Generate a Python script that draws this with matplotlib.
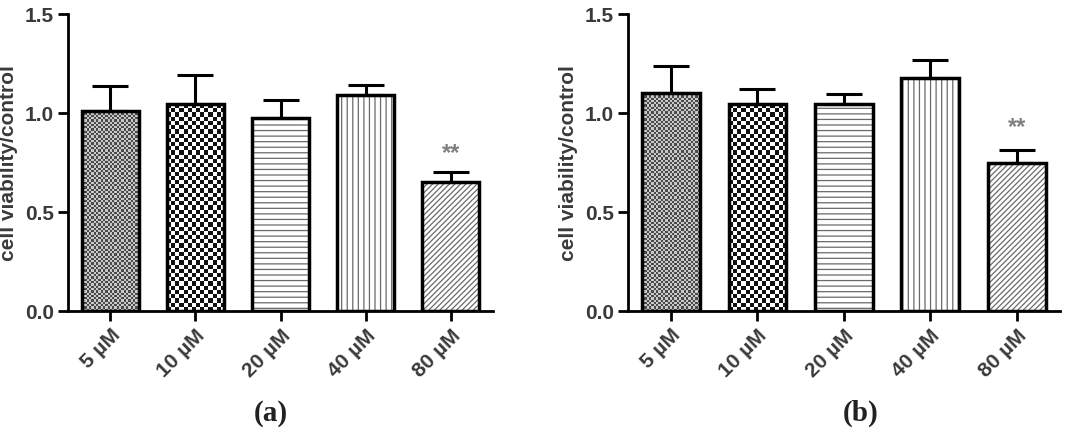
import numpy as np
import matplotlib
matplotlib.use('Agg')
import matplotlib.pyplot as plt
from matplotlib.colors import ListedColormap

plt.rcParams['hatch.linewidth'] = 0.9

# Data
doses = ['5 µM', '10 µM', '20 µM', '40 µM', '80 µM']
viability_a = [1.01, 1.045, 0.975, 1.09, 0.65]
sem_a = [0.126, 0.145, 0.091, 0.05, 0.05]
viability_b = [1.10, 1.045, 1.045, 1.175, 0.745]
sem_b = [0.135, 0.075, 0.05, 0.09, 0.065]
star_a = 0.80
star_b = 0.93

text_col = '#3a3a3a'
font = 'Liberation Sans'


# Fill a bar with a checkerboard, clipped to the bar outline
def checker(ax, bar, cell_px, c1, c2):
    x0, y0 = bar.get_x(), bar.get_y()
    w, h = bar.get_width(), bar.get_height()
    (px0, py0), (px1, py1) = ax.transData.transform([(x0, y0), (x0 + w, y0 + h)])
    nx = max(1, int(round((px1 - px0) / cell_px)))
    ny = max(1, int(round((py1 - py0) / cell_px)))
    grid = np.add.outer(np.arange(ny), np.arange(nx)) % 2
    im = ax.imshow(grid, extent=(x0, x0 + w, y0, y0 + h), cmap=ListedColormap([c1, c2]),
                   interpolation='nearest', aspect='auto', zorder=1)
    im.set_clip_path(bar)


def draw_panel(ax, vals, errs, star_y):
    x = np.arange(len(doses))
    ax.set_xlim(-0.5, 4.5)
    ax.set_ylim(0, 1.5)
    # gray hatch layer underneath, black outline on top
    fills = ax.bar(x, vals, width=0.67, color='white', edgecolor='#6a6a6a', linewidth=0, zorder=1.2)
    ax.bar(x, vals, width=0.67, color='none', edgecolor='black', linewidth=2.5, zorder=2)
    ax.errorbar(x, vals, yerr=[np.zeros(len(vals)), errs], fmt='none', ecolor='black',
                elinewidth=2.2, capsize=13, capthick=2.2, zorder=1.5)

    # patterns: fine check, coarse check, horizontal, vertical, diagonal
    checker(ax, fills[0], 2.3, '#4a4a4a', '#c8c8c8')
    checker(ax, fills[1], 4.2, '#111111', '#ffffff')
    fills[0].set_facecolor('none')
    fills[1].set_facecolor('none')
    fills[2].set_hatch('---')
    fills[3].set_hatch('|||')
    fills[4].set_hatch('//////')

    ax.text(x[-1], star_y, '**', ha='center', va='center', fontsize=17,
            fontweight='bold', color='#808080', family=font)

    ax.set_xlim(-0.5, 4.5)
    ax.set_ylim(0, 1.5)
    ax.set_yticks([0, 0.5, 1.0, 1.5])
    ax.set_yticklabels(['0.0', '0.5', '1.0', '1.5'])
    ax.set_xticks(x)
    ax.set_xticklabels(doses, rotation=45, ha='right', rotation_mode='anchor')
    for lab in ax.get_xticklabels() + ax.get_yticklabels():
        lab.set_fontweight('bold')
        lab.set_fontsize(15)
        lab.set_color(text_col)
        lab.set_family(font)
    ax.tick_params(width=2, length=7, direction='out', pad=3)
    for s in ['top', 'right']:
        ax.spines[s].set_visible(False)
    for s in ['left', 'bottom']:
        ax.spines[s].set_linewidth(2)
    ax.set_ylabel('cell viability/control', fontsize=15, fontweight='bold',
                  color=text_col, family=font, labelpad=5)


fig = plt.figure(figsize=(10.77, 4.35), dpi=100)
ax1 = fig.add_axes([0.063, 0.283, 0.395, 0.683])
ax2 = fig.add_axes([0.583, 0.283, 0.401, 0.683])
draw_panel(ax1, viability_a, sem_a, star_a)
draw_panel(ax2, viability_b, sem_b, star_b)

for tag, xpos in [('(a)', 0.251), ('(b)', 0.799)]:
    fig.text(xpos, 0.05, tag, ha='center', va='center', fontsize=21, fontweight='bold',
             family='Liberation Serif', color='#222222')

fig.savefig('out.png', dpi=100)
